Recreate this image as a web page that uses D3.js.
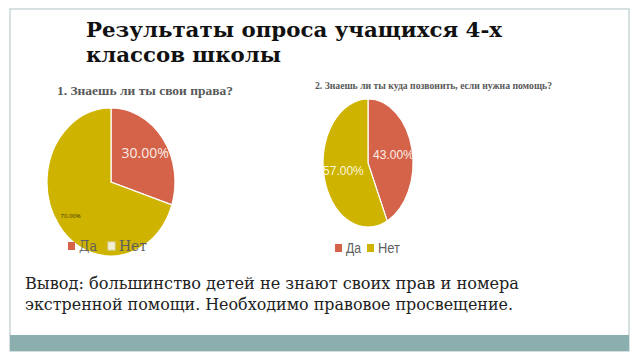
<!DOCTYPE html>
<html>
<head>
<meta charset="utf-8">
<style>
  body { margin: 0; background: #fff; }
  svg { display: block; }
</style>
<script src="https://d3js.org/d3.v7.min.js"></script>
</head>
<body>
<svg id="slide" width="640" height="360"></svg>
<script>
  // survey data
  const categories = ["Да", "Нет"];
  const q1Values = [30, 70];
  const q2Values = [43, 57];
  const chartTitles = ["1. Знаешь ли ты свои права?", "2. Знаешь ли ты куда позвонить, если нужна помощь?"];
  const slideTitle = ["Результаты опроса учащихся 4-х", "классов школы"];
  const conclusion = ["Вывод: большинство детей не знают своих прав и номера",
                      "экстренной помощи. Необходимо правовое просвещение."];

  const svg = d3.select("#slide");
  const color = d3.scaleOrdinal().domain(categories).range(["#d5634a", "#ceb300"]);

  // slide frame + bottom bar
  svg.append("rect").attr("x", 10).attr("y", 9).attr("width", 619).attr("height", 342)
    .attr("fill", "#fff").attr("stroke", "#c9d6d6").attr("stroke-width", 1.5);
  svg.append("rect").attr("x", 10).attr("y", 335).attr("width", 619).attr("height", 16)
    .attr("fill", "#8aafae");

  svg.selectAll("text.title").data(slideTitle).enter().append("text")
    .attr("class", "title")
    .attr("x", 86).attr("y", (d, i) => 37 + i * 25)
    .attr("font-family", "DejaVu Serif").attr("font-weight", "bold").attr("font-size", 20)
    .attr("fill", "#111")
    .attr("textLength", (d, i) => i === 0 ? 416 : 195).attr("lengthAdjust", "spacingAndGlyphs")
    .text(d => d);

  svg.selectAll("text.concl").data(conclusion).enter().append("text")
    .attr("class", "concl")
    .attr("x", 25).attr("y", (d, i) => 289 + i * 21)
    .attr("font-family", "DejaVu Serif").attr("font-size", 16)
    .attr("fill", "#222")
    .attr("textLength", (d, i) => i === 0 ? 494 : 488).attr("lengthAdjust", "spacingAndGlyphs")
    .text(d => d);

  const pie = d3.pie().sort(null).value(d => d.v);
  const unitArc = d3.arc().innerRadius(0).outerRadius(1);

  function drawPie(opt) {
    const data = pie(categories.map((c, i) => ({ c, v: opt.values[i] })));
    const g = svg.append("g").attr("transform", `translate(${opt.cx},${opt.cy})`);

    g.append("g").attr("transform", `scale(${opt.rx},${opt.ry})`)
      .selectAll("path").data(data).enter().append("path")
      .attr("d", unitArc)
      .attr("fill", d => color(d.data.c))
      .attr("stroke", "#fff").attr("stroke-width", 1.2)
      .attr("vector-effect", "non-scaling-stroke");

    g.selectAll("text.lbl").data(data).enter().append("text")
      .attr("class", "lbl")
      .attr("x", d => { const a = (d.startAngle + d.endAngle) / 2; return Math.sin(a) * opt.rx * opt.lf[d.index]; })
      .attr("y", d => { const a = (d.startAngle + d.endAngle) / 2; return -Math.cos(a) * opt.ry * opt.lf[d.index]; })
      .attr("text-anchor", "middle").attr("dy", "0.35em")
      .attr("font-family", opt.labelFont)
      .attr("font-size", (d) => opt.labelSize[d.index])
      .attr("fill", (d) => opt.labelColor[d.index])
      .text(d => d.data.v.toFixed(2) + "%");

    svg.append("text")
      .attr("x", opt.titleX).attr("y", opt.titleY)
      .attr("font-family", "Liberation Serif").attr("font-weight", "bold")
      .attr("font-size", opt.titleSize).attr("fill", "#595959")
      .attr("textLength", opt.titleW).attr("lengthAdjust", "spacingAndGlyphs")
      .text(opt.title);

    const leg = svg.append("g");
    categories.forEach((c, i) => {
      const x = opt.legX[i];
      leg.append("rect").attr("x", x).attr("y", opt.legY - 9).attr("width", 7).attr("height", 8)
        .attr("fill", opt.hollow && i === 1 ? "#f4efd0" : color(c))
        .attr("stroke", opt.hollow && i === 1 ? "#dcd8c0" : "none");
      leg.append("text").attr("x", x + 11).attr("y", opt.legY)
        .attr("font-family", opt.legFont).attr("font-size", opt.legSize)
        .attr("fill", "#5f5f5f")
        .attr("textLength", opt.legW[i]).attr("lengthAdjust", "spacingAndGlyphs")
        .text(c);
    });
  }

  drawPie({
    values: q1Values, cx: 111, cy: 182, rx: 64, ry: 74, lf: [0.66, 0.78],
    labelFont: "Open Sans", labelSize: [14, 6], labelColor: ["#f8ece6", "#3a3300"],
    title: chartTitles[0], titleX: 57, titleY: 95, titleSize: 12.5, titleW: 176,
    legX: [68, 108], legY: 251, legFont: "DejaVu Serif", legSize: 15, legW: [18, 28], hollow: true
  });

  drawPie({
    values: q2Values, cx: 368, cy: 163, rx: 45, ry: 64, lf: [0.58, 0.56],
    labelFont: "Liberation Sans", labelSize: [12, 12], labelColor: ["#fbeee8", "#fbf6dc"],
    title: chartTitles[1], titleX: 315, titleY: 89, titleSize: 11, titleW: 237,
    legX: [335, 367], legY: 253, legFont: "Liberation Sans", legSize: 14, legW: [15, 22], hollow: false
  });
</script>
</body>
</html>
